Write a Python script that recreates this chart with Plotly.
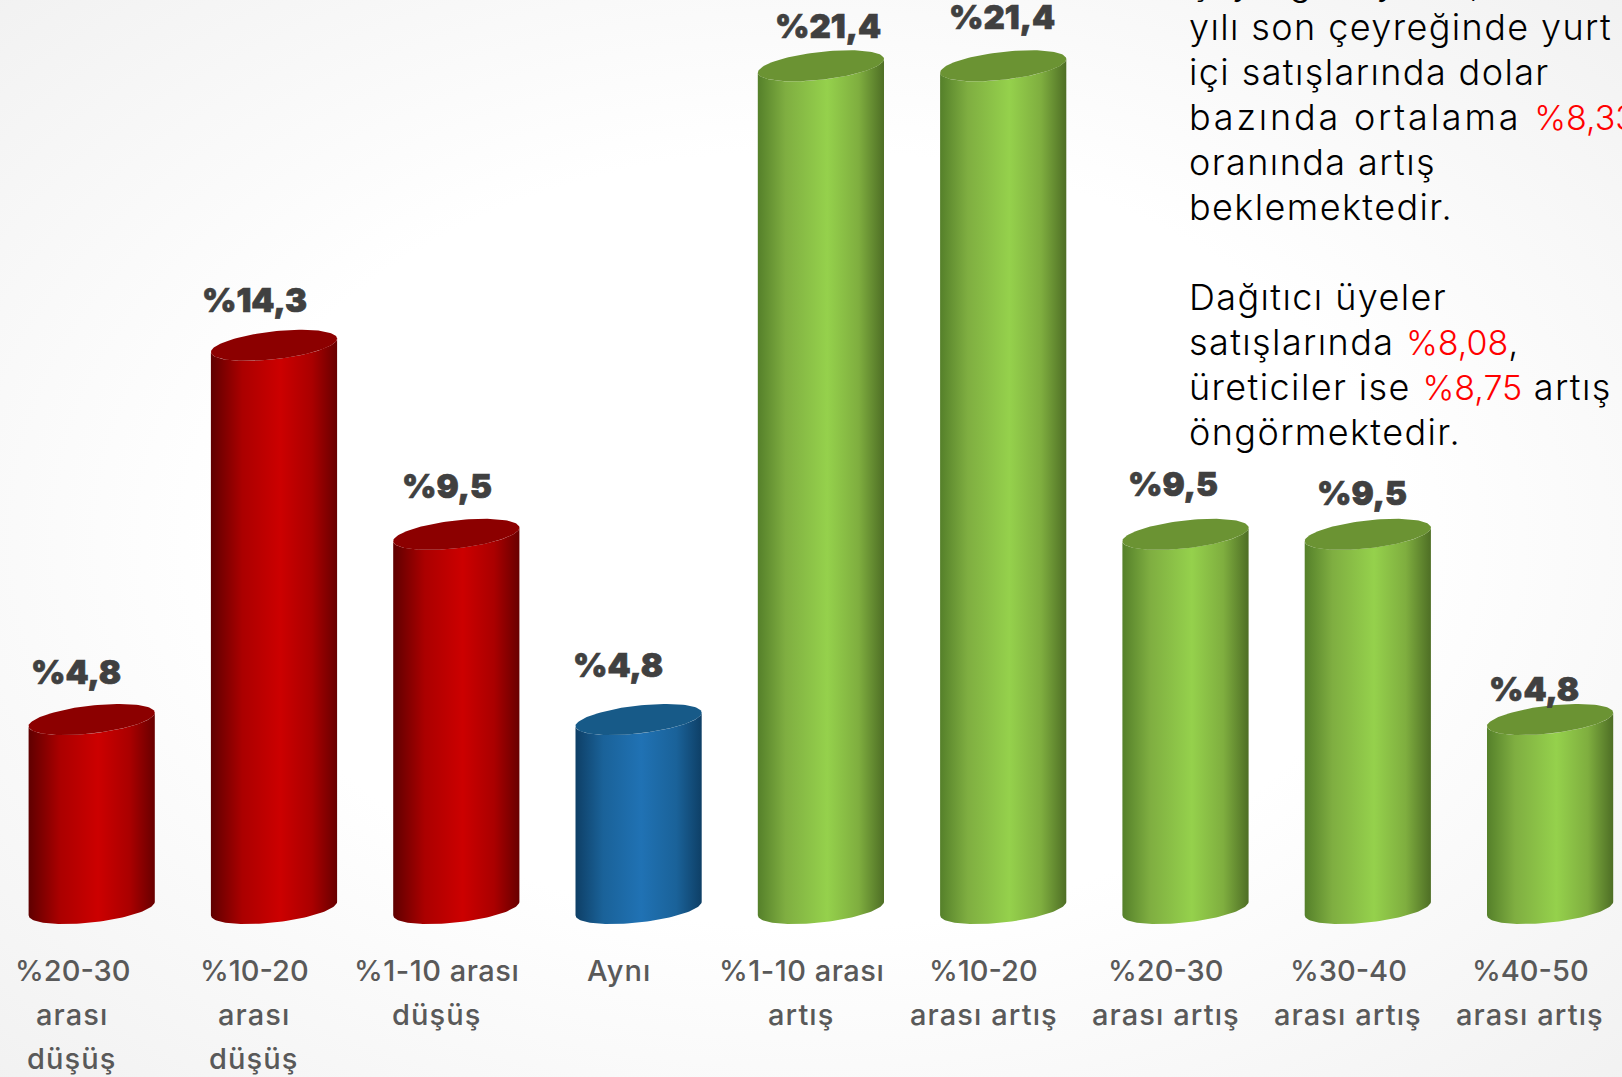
import numpy as np
import plotly.graph_objects as go

categories = [
    ["%20-30", "arası", "düşüş"],
    ["%10-20", "arası", "düşüş"],
    ["%1-10 arası", "düşüş"],
    ["Aynı"],
    ["%1-10 arası", "artış"],
    ["%10-20", "arası artış"],
    ["%20-30", "arası artış"],
    ["%30-40", "arası artış"],
    ["%40-50", "arası artış"],
]
values = [4.8, 14.3, 9.5, 4.8, 21.4, 21.4, 9.5, 9.5, 4.8]
value_labels = ["%4,8", "%14,3", "%9,5", "%4,8", "%21,4", "%21,4", "%9,5", "%9,5", "%4,8"]
groups = ["down", "down", "down", "same", "up", "up", "up", "up", "up"]

R = "<span style='color:#ff0000;letter-spacing:0;font-size:34px'>{}</span>"
note_lines = [
    "çeyreğe kıyasla, 2023",
    "yılı son çeyreğinde yurt",
    "içi satışlarında dolar",
    "bazında ortalama " + R.format("%8,33"),
    "oranında artış",
    "beklemektedir.",
    "",
    "Dağıtıcı üyeler",
    "satışlarında " + R.format("%8,08") + ",",
    "üreticiler ise " + R.format("%8,75") + " artış",
    "öngörmektedir.",
]

# page geometry (pixels)
W, H = 1622, 1077
X0, PITCH = 91.7, 182.3      # first bar centre, bar spacing
Y0, UNIT = 908.5, 39.38      # value 0 pixel row, pixels per value unit
A, B, K = 63.1, 14.0, 6.8    # cylinder ellipse half-width, half-height, tilt
xr = [-X0 / PITCH, (W - X0) / PITCH]
yr = [-(H - Y0) / UNIT, Y0 / UNIT]

body = {
    "down": [[0, "#5f0000"], [0.25, "#ab0000"], [0.55, "#cc0000"], [0.8, "#aa0000"], [1, "#680000"]],
    "same": [[0, "#0e3f66"], [0.22, "#1a6299"], [0.52, "#2072b4"], [0.8, "#1a6299"], [1, "#0e3f66"]],
    "up": [[0, "#55802a"], [0.22, "#7fae41"], [0.55, "#95d14c"], [0.8, "#7fae3f"], [1, "#4e6e25"]],
}
top = {"down": "#8c0000", "same": "#175a88", "up": "#6b9333"}

fig = go.Figure()

# soft page background
px = (xr[1] - xr[0]) * 0.3
py = (yr[1] - yr[0]) * 0.3
fig.add_trace(go.Scatter(
    x=[xr[0] - px, xr[1] + px, xr[1] + px, xr[0] - px, xr[0] - px],
    y=[yr[0] - py, yr[0] - py, yr[1] + py, yr[1] + py, yr[0] - py],
    mode="lines", line=dict(width=0), fill="toself", hoverinfo="skip",
    fillgradient=dict(type="radial", colorscale=[[0, "#ffffff"], [0.45, "#ffffff"], [1, "#eeeeee"]]),
))

t_low = np.linspace(np.pi, 0, 60)
t_all = np.linspace(0, 2 * np.pi, 120)


def ring(i, v, t):
    x = i + A * np.cos(t) / PITCH
    y = v - (-K * np.cos(t) + B * np.sin(t)) / UNIT
    return x, y


for i, (v, g) in enumerate(zip(values, groups)):
    xb, yb = ring(i, 0, t_low)
    xt, yt = ring(i, v, t_low[::-1])
    fig.add_trace(go.Scatter(
        x=np.r_[xb, xt, xb[0]], y=np.r_[yb, yt, yb[0]],
        mode="lines", line=dict(width=0), fill="toself", hoverinfo="skip",
        fillgradient=dict(type="horizontal", colorscale=body[g]),
    ))
    xe, ye = ring(i, v, t_all)
    fig.add_trace(go.Scatter(
        x=xe, y=ye, mode="lines", line=dict(width=0), fill="toself",
        fillcolor=top[g], hoverinfo="skip",
    ))

# value labels
label_dx = [-15, -19, -9, -20, 7, -1, -12, -6, -16]
label_up = [46, 44, 47, 53, 38, 47, 49, 40, 29]
for i, (v, s) in enumerate(zip(values, value_labels)):
    fig.add_annotation(
        x=i, y=v, text=f"<span style='stroke:#404040;stroke-width:0.7px'>{s}</span>",
        showarrow=False, xanchor="center", yanchor="middle",
        xshift=label_dx[i] * 1.0344, yshift=label_up[i] * 1.0344,
        font=dict(family="Inter", size=33, color="#404040", weight=900),
    )


def label_spacing(s):
    if not s.startswith("%"):
        return 1.1
    return 0.5 if " " in s else 0


# category labels, one annotation per line
for i, lines in enumerate(categories):
    for j, s in enumerate(lines):
        fig.add_annotation(
            x=i, y=0, text=f"<span style='letter-spacing:{label_spacing(s)}px'>{s}</span>",
            showarrow=False, xanchor="center", yanchor="middle",
            xshift=-19.7, yshift=-(62 + 44.2 * j),
            font=dict(family="Inter", size=29, color="#595959", weight=500),
        )

# commentary block
note_spacing = [1.4, 1.4, 1.4, 2.8, 1.4, 1.4, 1.4, 1.4, 1.4, 1.4, 1.4]
for j, s in enumerate(note_lines):
    if s:
        head, sep, tail = s.partition("<span")
        inner = f"<span style='letter-spacing:{note_spacing[j]}px'>{head}</span>"
        if sep:
            red, close, rest = tail.partition("</span>")
            inner += sep + red + close
            if rest:
                inner += f"<span style='letter-spacing:{note_spacing[j]}px'>{rest}</span>"
        fig.add_annotation(
            xref="paper", yref="paper", x=1187 / W, y=1 - (-18 + 45 * j) / H,
            text=inner,
            showarrow=False, xanchor="left", yanchor="middle", align="left",
            font=dict(family="Inter", size=36, color="#000000", weight=300),
        )

fig.update_layout(
    width=W, height=H, margin=dict(l=0, r=0, t=0, b=0),
    showlegend=False, paper_bgcolor="#ffffff", plot_bgcolor="#ffffff",
    xaxis=dict(range=xr, visible=False, fixedrange=True),
    yaxis=dict(range=yr, visible=False, fixedrange=True),
)
fig.write_html(
    "out.html", config={"displayModeBar": False},
    post_script="document.body.style.margin='0';document.body.style.overflow='hidden';",
)
